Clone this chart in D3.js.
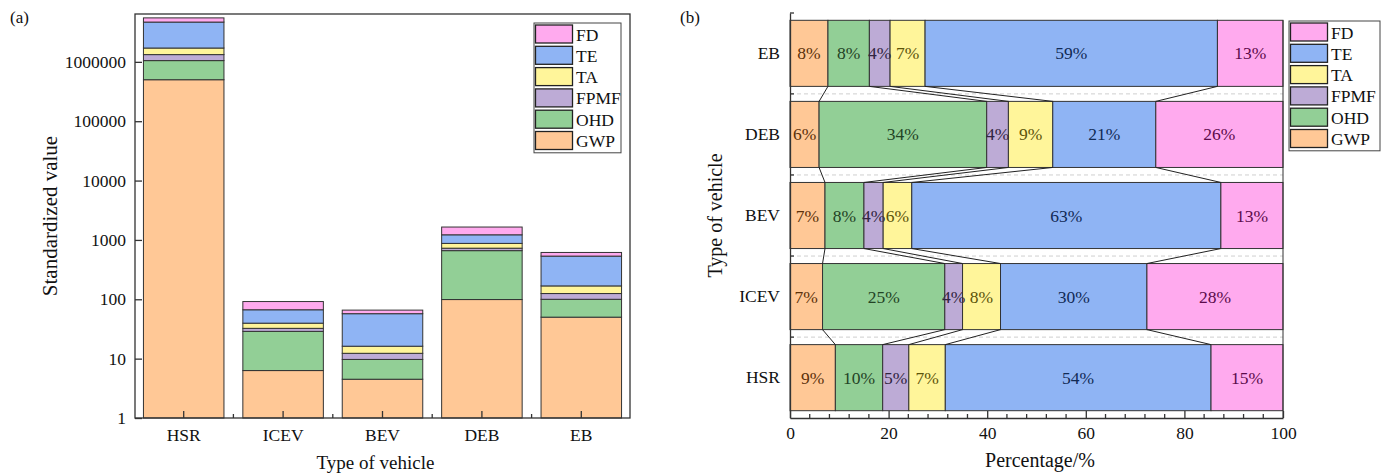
<!DOCTYPE html>
<html><head><meta charset="utf-8">
<script src="https://cdn.jsdelivr.net/npm/d3@7"></script>
<style>
body{margin:0;background:#fff}
svg{display:block}
text{font-family:"Liberation Serif","Times New Roman",serif;fill:#111}
</style>
</head><body>
<svg id="c" width="1391" height="474"></svg>
<script>
// ---------- data ----------
const vehicles = ["HSR", "ICEV", "BEV", "DEB", "EB"];
const indicators = ["GWP", "OHD", "FPMF", "TA", "TE", "FD"];
const colors = ["#FFC896", "#92CF96", "#BDABD6", "#FFF59A", "#8FB4F4", "#FFAAEE"];
const legendOrder = ["FD", "TE", "TA", "FPMF", "OHD", "GWP"];

// (a) standardized values (log scale)
const valGWP  = [500000, 6.3, 4.5, 99, 50];
const valOHD  = [550000, 22.5, 5.2, 561, 50];
const valFPMF = [275000, 3.6, 2.6, 66, 25];
const valTA   = [385000, 7.2, 3.9, 148, 43];
const valTE   = [2970000, 27, 41, 346, 366];
const valFD   = [825000, 25, 8.5, 429, 81];
const yTicksA = [1, 10, 100, 1000, 10000, 100000, 1000000];

// (b) percentage shares
const shGWP  = [9.2, 6.6, 7.1, 5.9, 7.7];
const shOHD  = [9.6, 24.8, 7.9, 34.0, 8.4];
const shFPMF = [5.3, 3.6, 3.9, 4.4, 4.2];
const shTA   = [7.4, 7.7, 5.8, 9.0, 7.1];
const shTE   = [53.9, 29.7, 62.7, 20.9, 59.3];
const shFD   = [14.6, 27.6, 12.6, 25.8, 13.3];
const xTicksB = [0, 20, 40, 60, 80, 100];

const valSeries = [valGWP, valOHD, valFPMF, valTA, valTE, valFD];
const shSeries = [shGWP, shOHD, shFPMF, shTA, shTE, shFD];
const rowsA = vehicles.map((v, i) => { const o = {veh: v}; indicators.forEach((k, j) => o[k] = valSeries[j][i]); return o; });
const rowsB = vehicles.map((v, i) => { const o = {veh: v}; indicators.forEach((k, j) => o[k] = shSeries[j][i]); return o; });
const color = d3.scaleOrdinal(indicators, colors);

const svg = d3.select("#c");
const stroke = "#333";
const FS = 17.5;

// ---------- panel (a) ----------
const A = {l: 135, r: 630, t: 14, b: 418};
const xA = d3.scaleBand(vehicles, [A.l, A.r]).paddingInner(0.19).paddingOuter(0.085);
const yA = d3.scaleLog([1, 6.4e6], [A.b, A.t]);
const stackA = d3.stack().keys(indicators)(rowsA);

const gA = svg.append("g");
stackA.forEach(layer => {
  gA.append("g").selectAll("rect").data(layer).join("rect")
    .attr("x", d => xA(d.data.veh))
    .attr("width", xA.bandwidth())
    .attr("y", d => yA(d[1]))
    .attr("height", d => yA(Math.max(1, d[0])) - yA(d[1]))
    .attr("fill", color(layer.key))
    .attr("stroke", stroke).attr("stroke-width", 1);
});
// frame
gA.append("rect").attr("x", A.l).attr("y", A.t).attr("width", A.r - A.l).attr("height", A.b - A.t)
  .attr("fill", "none").attr("stroke", stroke).attr("stroke-width", 1.3);
// y axis
const axYA = gA.append("g").attr("transform", `translate(${A.l},0)`)
  .call(d3.axisLeft(yA).tickValues(yTicksA).tickFormat(d3.format("d")).tickSize(-7).tickSizeOuter(0).tickPadding(9));
axYA.select(".domain").remove();
axYA.selectAll("line").attr("stroke", stroke).attr("stroke-width", 1.3);
axYA.selectAll("text").attr("font-size", FS).attr("font-family", "Liberation Serif").attr("fill", "#111");
// x axis
const axXA = gA.append("g").attr("transform", `translate(0,${A.b})`)
  .call(d3.axisBottom(xA).tickSize(-7).tickSizeOuter(0).tickPadding(11));
axXA.select(".domain").remove();
axXA.selectAll("line").attr("stroke", stroke).attr("stroke-width", 1.3);
axXA.selectAll("text").attr("font-size", FS).attr("font-family", "Liberation Serif").attr("fill", "#111");
// minor ticks between categories
const minorA = vehicles.slice(1).map(v => xA(v) - xA.step() * xA.paddingInner() / 2);
gA.append("g").selectAll("line").data(minorA).join("line")
  .attr("x1", d => d).attr("x2", d => d).attr("y1", A.b).attr("y2", A.b - 4)
  .attr("stroke", stroke).attr("stroke-width", 1.3);
// titles
svg.append("text").attr("x", 10).attr("y", 23).attr("font-size", 17).text("(a)");
svg.append("text").attr("transform", `translate(57,${(A.t + A.b) / 2}) rotate(-90)`)
  .attr("text-anchor", "middle").attr("font-size", 21).text("Standardized value");
svg.append("text").attr("x", (A.l + A.r) / 2 - 7).attr("y", 469).attr("text-anchor", "middle")
  .attr("font-size", 19).text("Type of vehicle");

// legend builder
function legend(x, y, w) {
  const g = svg.append("g").attr("transform", `translate(${x},${y})`);
  const pitch = 21.3;
  g.append("rect").attr("width", w).attr("height", pitch * 6 + 2).attr("fill", "#fff")
    .attr("stroke", "#444").attr("stroke-width", 1);
  legendOrder.forEach((k, i) => {
    g.append("rect").attr("x", 1.5).attr("y", 2 + i * pitch).attr("width", 37).attr("height", 18)
      .attr("fill", color(k)).attr("stroke", "#222").attr("stroke-width", 1.3);
    g.append("text").attr("x", 42).attr("y", 2 + i * pitch + 15.5).attr("font-size", FS).text(k);
  });
}
legend(534, 23, 87);

// ---------- panel (b) ----------
const B = {l: 790, r: 1283, t: 13, b: 418};
const xB = d3.scaleLinear([0, 100], [B.l, B.r]);
const yB = d3.scaleBand(vehicles.slice().reverse(), [B.t, B.b]).paddingInner(0.185).paddingOuter(0.09);
const stackB = d3.stack().keys(indicators)(rowsB);
const gB = svg.append("g");

// gap dashed guide lines + boundary ticks
const bounds = [B.t].concat(vehicles.slice().reverse().slice(1).map(v => yB(v) - yB.step() * yB.paddingInner() / 2));
gB.append("g").selectAll("line").data(bounds.slice(1)).join("line")
  .attr("x1", B.l).attr("x2", B.r).attr("y1", d => d).attr("y2", d => d)
  .attr("stroke", "#cfcfcf").attr("stroke-dasharray", "4,3").attr("stroke-width", 1);

stackB.forEach(layer => {
  const g = gB.append("g");
  g.selectAll("rect").data(layer).join("rect")
    .attr("x", d => xB(d[0])).attr("width", d => xB(d[1]) - xB(d[0]))
    .attr("y", d => yB(d.data.veh)).attr("height", yB.bandwidth())
    .attr("fill", color(layer.key)).attr("stroke", stroke).attr("stroke-width", 1);
});
// connectors between adjacent bars
const conn = [];
stackB.slice(0, 5).forEach(layer => {
  for (let i = 0; i < vehicles.length - 1; i++) {
    const lower = layer[i], upper = layer[i + 1];
    conn.push({x1: xB(upper[1]), y1: yB(upper.data.veh) + yB.bandwidth(), x2: xB(lower[1]), y2: yB(lower.data.veh)});
  }
});
gB.append("g").selectAll("line").data(conn).join("line")
  .attr("x1", d => d.x1).attr("y1", d => d.y1).attr("x2", d => d.x2).attr("y2", d => d.y2)
  .attr("stroke", "#222").attr("stroke-width", 1);
// percent labels
const fmt = d3.format(".0f");
stackB.forEach(layer => {
  const dark = d3.hsl(color(layer.key)); dark.l = 0.2; dark.s = Math.min(1, dark.s * 0.8);
  gB.append("g").selectAll("text").data(layer).join("text")
    .attr("x", d => xB((d[0] + d[1]) / 2)).attr("y", d => yB(d.data.veh) + yB.bandwidth() / 2 + 6)
    .attr("text-anchor", "middle").attr("font-size", FS).style("fill", dark.formatHex())
    .text(d => fmt(d[1] - d[0]) + "%");
});
// right edge
gB.append("line").attr("x1", B.r).attr("x2", B.r).attr("y1", yB("EB")).attr("y2", B.b)
  .attr("stroke", stroke).attr("stroke-width", 1);
// left axis
const axYB = gB.append("g").attr("transform", `translate(${B.l},0)`)
  .call(d3.axisLeft(yB).tickSize(0).tickPadding(10));
axYB.select(".domain").attr("stroke", stroke).attr("stroke-width", 1.3);
axYB.selectAll("text").attr("font-size", FS).attr("font-family", "Liberation Serif").attr("fill", "#111");
gB.append("g").selectAll("line").data(bounds).join("line")
  .attr("x1", B.l).attr("x2", B.l + 4).attr("y1", d => d).attr("y2", d => d)
  .attr("stroke", stroke).attr("stroke-width", 1.3);
// bottom axis
const axXB = gB.append("g").attr("transform", `translate(0,${B.b})`)
  .call(d3.axisBottom(xB).tickValues(xTicksB).tickSize(-7).tickSizeOuter(0).tickPadding(9));
axXB.select(".domain").attr("stroke", stroke).attr("stroke-width", 1.3);
axXB.selectAll("line").attr("stroke", stroke).attr("stroke-width", 1.3);
axXB.selectAll("text").attr("font-size", FS).attr("font-family", "Liberation Serif").attr("fill", "#111");
gB.append("g").selectAll("line").data(d3.range(0, 101, 4).filter(v => v % 20 !== 0)).join("line")
  .attr("x1", d => xB(d)).attr("x2", d => xB(d)).attr("y1", B.b).attr("y2", B.b - 4)
  .attr("stroke", stroke).attr("stroke-width", 1.3);
// titles
svg.append("text").attr("x", 680).attr("y", 23).attr("font-size", 17).text("(b)");
svg.append("text").attr("transform", `translate(722,${(B.t + B.b) / 2}) rotate(-90)`)
  .attr("text-anchor", "middle").attr("font-size", 20).text("Type of vehicle");
svg.append("text").attr("x", 1040).attr("y", 467).attr("text-anchor", "middle")
  .attr("font-size", 20).text("Percentage/%");
legend(1289, 21, 91);
</script>
</body></html>
